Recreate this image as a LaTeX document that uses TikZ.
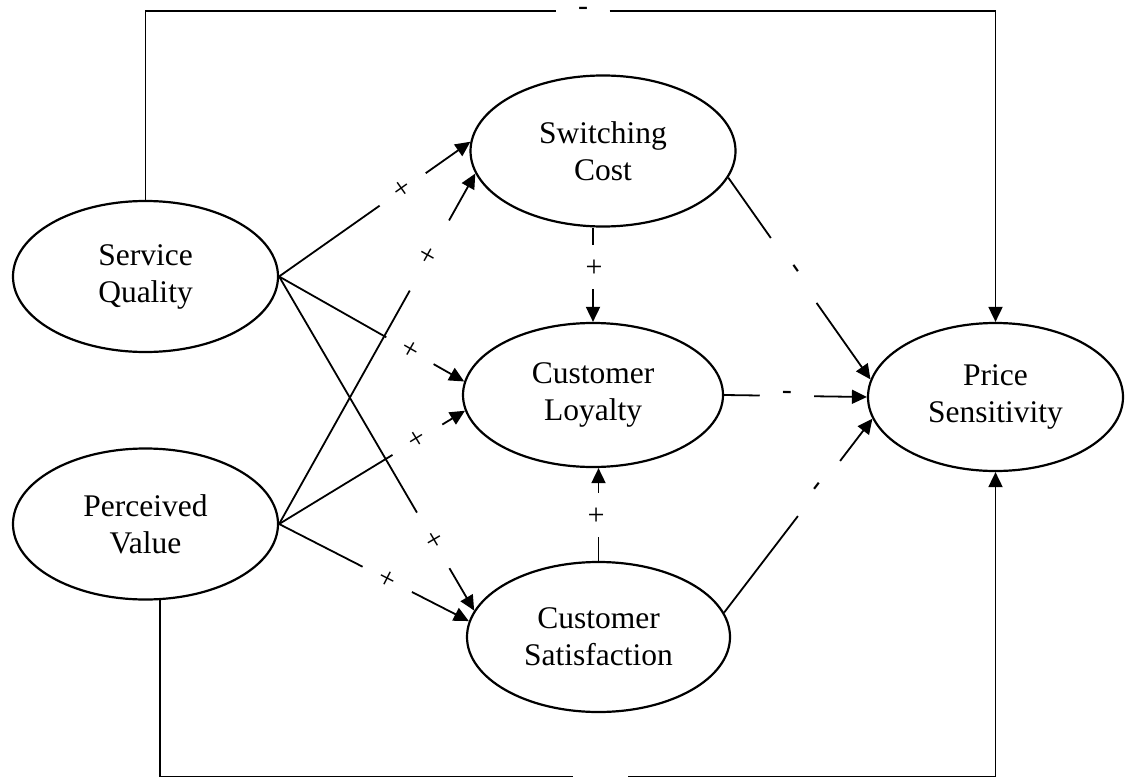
\documentclass[tikz,border=0pt]{standalone}
\usepackage{fontspec}
\setmainfont{Liberation Serif}
\usetikzlibrary{shapes.geometric,arrows.meta}
\begin{document}
\begin{tikzpicture}[x=1pt,y=-1pt,
  var/.style={ellipse, draw, line width=2.2pt, inner sep=0pt, align=center,
              minimum width=265pt, minimum height=151pt,
              font=\fontsize{31.5}{37}\selectfont},
  conn/.style={line width=1.8pt},
  arr/.style={conn, -{Triangle[length=15pt,width=14pt]}},
  gaplbl/.style={circle, inner sep=0pt, minimum size=#1, sloped,
                 font=\fontsize{30}{30}\selectfont},
  gapbar/.style={rectangle, inner sep=0pt, minimum height=4pt, minimum width=#1,
                 font=\fontsize{30}{30}\selectfont}
]
\useasboundingbox (0,0) rectangle (1126,778);

% constructs
\node[var] (SQ) at (145.5,276.5) {Service\\Quality};
\node[var] (PV) at (145.5,524) {Perceived\\Value};
\node[var] (SC) at (603,151) {Switching\\Cost};
\node[var, minimum width=260pt, minimum height=144pt] (CL) at (593,395) {Customer\\Loyalty};
\node[var, minimum width=263pt, minimum height=150pt] (CS) at (598.5,637) {Customer\\Satisfaction};
\node[var, minimum width=255pt, minimum height=148pt] (PS) at (995.5,397) {Price\\Sensitivity};

% labelled connectors (line broken around the sign)
\path (SQ.east) -- node[gaplbl=56pt, pos=0.646] (l1) {+} (SC.176);
\draw[conn] (SQ.east) -- (l1); \draw[arr] (l1) -- (SC.176);

\path (SQ.east) -- node[gaplbl=54pt, pos=0.707] (l2) {+} (CL.174);
\draw[conn] (SQ.east) -- (l2); \draw[arr] (l2) -- (CL.174);

\path (SQ.east) -- node[gaplbl=64pt, pos=0.79] (l3) {+} (CS.168);
\draw[conn] (SQ.east) -- (l3); \draw[arr] (l3) -- (CS.168);

\path (PV.east) -- node[gaplbl=80pt, pos=0.766] (l4) {+} (SC.190);
\draw[conn] (PV.east) -- (l4); \draw[arr] (l4) -- (SC.190);

\path (PV.east) -- node[gaplbl=58pt, pos=0.744] (l5) {+} (CL.187);
\draw[conn] (PV.east) -- (l5); \draw[arr] (l5) -- (CL.187);

\path (PV.east) -- node[gaplbl=55pt, pos=0.57] (l6) {+} (CS.173);
\draw[conn] (PV.east) -- (l6); \draw[arr] (l6) -- (CS.173);

\path (CL.north |- SC.south) -- node[gaplbl=44pt, pos=0.417] (l7) {+} (CL.north);
\draw[conn] (CL.north |- SC.south) -- (l7); \draw[arr] (l7) -- (CL.north);

\path (CS.north) -- node[gaplbl=44pt, pos=0.495] (l8) {+} (CS.north |- CL.south);
\draw[conn] (CS.north) -- (l8); \draw[arr] (l8) -- (CS.north |- CL.south);

\path (SC.-12) -- node[gaplbl=79pt, pos=0.46] (l9) {-} (PS.172);
\draw[conn] (SC.-12) -- (l9); \draw[arr] (l9) -- (PS.172);

\path (CL.east) -- node[gaplbl=54pt, pos=0.44] (l10) {-} (PS.west);
\draw[conn] (CL.east) -- (l10); \draw[arr] (l10) -- (PS.west);

\path (CS.11) -- node[gaplbl=69pt, pos=0.64] (l11) {-} (PS.190);
\draw[conn] (CS.11) -- (l11); \draw[arr] (l11) -- (PS.190);

% outer loops
\node[gapbar=53pt] (topm) at (583,11) {-};
\draw[conn] (SQ.north) |- (topm);
\draw[arr] (topm) -| (PS.north);

\node[gapbar=55pt] (botm) at (600.5,776.5) {};
\draw[conn] (PV.-79) |- (botm);
\draw[arr] (botm) -| (PS.south);
\end{tikzpicture}
\end{document}
